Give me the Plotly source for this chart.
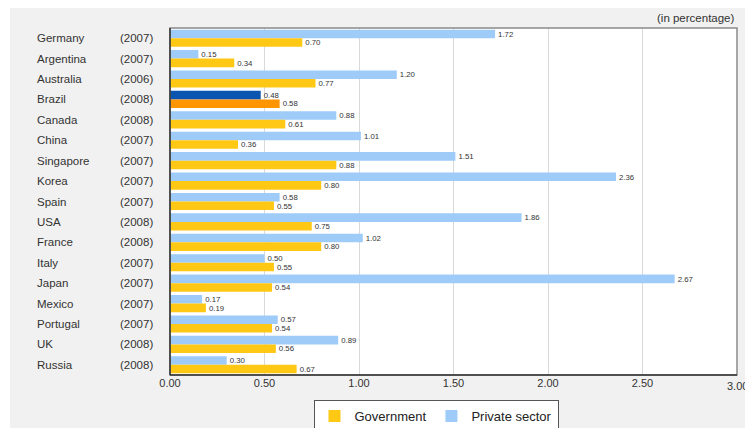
import plotly.graph_objects as go

countries = ["Germany", "Argentina", "Australia", "Brazil", "Canada", "China", "Singapore",
             "Korea", "Spain", "USA", "France", "Italy", "Japan", "Mexico", "Portugal", "UK", "Russia"]
years = ["2007", "2007", "2006", "2008", "2008", "2007", "2007", "2007", "2007", "2008",
         "2008", "2007", "2007", "2007", "2007", "2008", "2008"]
private = [1.72, 0.15, 1.20, 0.48, 0.88, 1.01, 1.51, 2.36, 0.58, 1.86, 1.02, 0.50, 2.67, 0.17, 0.57, 0.89, 0.30]
government = [0.70, 0.34, 0.77, 0.58, 0.61, 0.36, 0.88, 0.80, 0.55, 0.75, 0.80, 0.55, 0.54, 0.19, 0.54, 0.56, 0.67]
x_ticks = [0.0, 0.5, 1.0, 1.5, 2.0, 2.5, 3.0]

GOV = "#ffc814"
PRIV = "#9ecbf7"
highlight = "Brazil"
gov_colors = ["#ff9500" if c == highlight else GOV for c in countries]
priv_colors = ["#0a55b0" if c == highlight else PRIV for c in countries]

FONT = "Liberation Sans, Arial, sans-serif"
W, H = 745, 428
ml, mr, mt, mb = 170, 8, 28, 53
pw, ph = W - ml - mr, H - mt - mb

def px_x(p):
    return (p - ml) / pw

def px_y(p):
    return 1 - (p - mt) / ph

fig = go.Figure()
fig.add_trace(go.Bar(
    y=countries, x=private, orientation="h", name="Private sector",
    marker=dict(color=priv_colors, line=dict(width=0)),
    text=[f"{v:.2f}" for v in private], textposition="outside",
    textfont=dict(size=10, color="#333333", family=FONT), cliponaxis=False,
    legendrank=2,
))
fig.add_trace(go.Bar(
    y=countries, x=government, orientation="h", name="Government",
    marker=dict(color=gov_colors, line=dict(width=0)),
    text=[f"{v:.2f}" for v in government], textposition="outside",
    textfont=dict(size=10, color="#333333", family=FONT), cliponaxis=False,
    legendrank=1,
))

annotations = []
for c, yr in zip(countries, years):
    annotations.append(dict(x=px_x(35), y=c, xref="paper", yref="y", text=c, showarrow=False,
                            xanchor="left", font=dict(size=11.5, color="#333333", family=FONT)))
    annotations.append(dict(x=px_x(118), y=c, xref="paper", yref="y", text=f"({yr})", showarrow=False,
                            xanchor="left", font=dict(size=11.5, color="#333333", family=FONT)))
annotations.append(dict(x=px_x(737), y=px_y(18), xref="paper", yref="paper", text="(in percentage)",
                        showarrow=False, xanchor="right", yanchor="middle",
                        font=dict(size=11.5, color="#333333", family=FONT)))
# last tick label (plotly hides it because it overflows the figure edge)
annotations.append(dict(x=x_ticks[-1], y=0, xref="x", yref="paper", text=f"{x_ticks[-1]:.2f}",
                        showarrow=False, xanchor="center", yanchor="top", yshift=-3,
                        font=dict(size=11, color="#333333", family=FONT)))

shapes = [
    dict(type="rect", xref="paper", yref="paper", x0=px_x(10), x1=px_x(760), y0=px_y(8), y1=px_y(440),
         fillcolor="#f1f1f1", line=dict(width=0), layer="below"),
    dict(type="rect", xref="paper", yref="paper", x0=0, x1=1, y0=0, y1=1,
         fillcolor="#ffffff", line=dict(width=0), layer="below"),
    dict(type="rect", xref="paper", yref="paper", x0=0, x1=1, y0=0, y1=1,
         fillcolor="rgba(0,0,0,0)", line=dict(width=1.5, color="#8a8a8a"), layer="above"),
    dict(type="line", xref="paper", yref="paper", x0=0, x1=0, y0=0, y1=1,
         line=dict(width=1.5, color="#333333"), layer="above"),
    dict(type="line", xref="paper", yref="paper", x0=0, x1=1, y0=0, y1=0,
         line=dict(width=1.5, color="#333333"), layer="above"),
]

fig.update_layout(
    width=W, height=H,
    margin=dict(l=ml, r=mr, t=mt, b=mb, autoexpand=False),
    paper_bgcolor="#ffffff", plot_bgcolor="#ffffff",
    barmode="group", bargap=0.16, bargroupgap=0.0,
    font=dict(family=FONT, color="#333333"),
    xaxis=dict(range=[0, 3], tickvals=x_ticks[:-1], tickformat=".2f", showgrid=True,
               gridcolor="#d9d9d9", gridwidth=1, zeroline=False, ticks="",
               tickfont=dict(size=11, color="#333333"), fixedrange=True),
    yaxis=dict(autorange="reversed", showticklabels=False, ticks="", showgrid=False,
               zeroline=False),
    showlegend=True,
    legend=dict(orientation="h", x=px_x(436), xanchor="center", y=px_y(400), yanchor="top",
                bgcolor="#ffffff", bordercolor="#555555", borderwidth=1,
                font=dict(size=13, color="#222222", family=FONT), traceorder="normal"),
    annotations=annotations,
    shapes=shapes,
)

fig.write_html("out.html")
